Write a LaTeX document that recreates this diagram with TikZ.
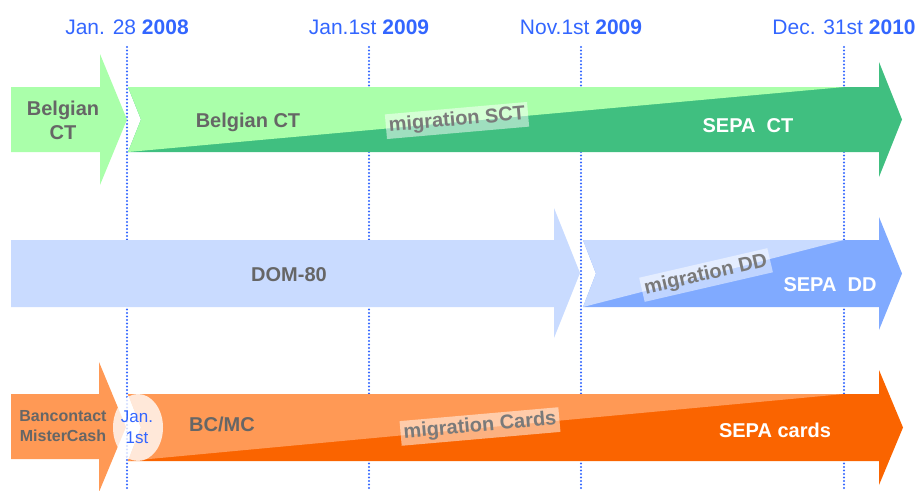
\documentclass[tikz,border=0pt]{standalone}
\usepackage{fontspec}
\setmainfont{Liberation Sans}
\definecolor{dateblue}{RGB}{51,102,255}
\definecolor{labelgray}{RGB}{102,102,102}
\definecolor{migrgray}{RGB}{122,122,122}
\definecolor{ctlight}{RGB}{170,255,170}
\definecolor{ctdark}{RGB}{64,191,128}
\definecolor{ddlight}{RGB}{201,219,255}
\definecolor{dddark}{RGB}{128,170,255}
\definecolor{cardlight}{RGB}{255,153,85}
\definecolor{carddark}{RGB}{250,100,0}

\begin{document}
\begin{tikzpicture}[x = 1pt, y = -1pt,
	datelbl/.style = {font = \fontsize{21}{24}\selectfont, text = dateblue, anchor = base, inner sep = 0pt},
	datemark/.style = {dateblue, line width = 2.3pt, line cap = round, dash pattern = on 0pt off 3.5pt},
	graylbl/.style = {font = \fontsize{20}{24}\selectfont\bfseries, text = labelgray, inner sep = 0pt},
	whitelbl/.style = {font = \fontsize{20}{24}\selectfont\bfseries, text = white, anchor = base, inner sep = 0pt},
	migrlbl/.style = {font = \fontsize{20}{24}\selectfont\bfseries, text = migrgray, fill = white, fill opacity = 0.5, text opacity = 1, inner xsep = 3pt, inner ysep = 3pt}]
	\useasboundingbox (0,0) rectangle (917,490);
	%%%	Dates
	\foreach \x/\name/\txt in {127/d2008/{Jan. 28 \textbf{2008}}, 369/d2009/{Jan.1st \textbf{2009}}, 581/dnov/{Nov.1st \textbf{2009}}, 844/d2010/{Dec. 31st \textbf{2010}}}
	{
		\node [datelbl] (\name) at (\x,34) {\txt};
		\draw [datemark] ([yshift = -13pt]\name.base) -- ++(0,443);
	}
	%%%	Credit transfers
	\fill [ctlight] (11,87) -- (100,87) -- (100,54) -- (127,119.5) -- (100,185) -- (100,152) -- (11,152) -- cycle;
	\fill [ctdark] (128,87) -- (879,87) -- (879,62) -- (902,119.5) -- (879,177) -- (879,152) -- (128,152) -- (141,119.5) -- cycle;
	\fill [ctlight] (128,87) -- (844,87) -- (128,152) -- (141,119.5) -- cycle;
	%%%	Direct debits
	\fill [ddlight] (11,240) -- (554,240) -- (554,208) -- (580,273) -- (554,338) -- (554,307) -- (11,307) -- cycle;
	\fill [dddark] (583,240) -- (879,240) -- (879,217) -- (902,273.5) -- (879,330) -- (879,307) -- (583,307) -- (596,273.5) -- cycle;
	\fill [ddlight] (583,240) -- (844,240) -- (583,307) -- (596,273.5) -- cycle;
	%%%	Cards
	\fill [cardlight] (11,394) -- (99,394) -- (99,362) -- (126,427) -- (99,492) -- (99,459) -- (11,459) -- cycle;
	\fill [carddark] (128,394) -- (879,394) -- (879,370) -- (903,427.5) -- (879,485) -- (879,461) -- (128,461) -- (141,427.5) -- cycle;
	\fill [cardlight] (128,394) -- (844,394) -- (128,461) -- (141,427.5) -- cycle;
	\fill [white, fill opacity = 0.78] (138,427.5) ellipse [x radius = 25, y radius = 33.5];
	%%%	Labels
	\node [graylbl, align = center] (oldct) at (63,120) {Belgian\\CT};
	\node [graylbl, anchor = base] (belct) at (248,127) {Belgian CT};
	\node [migrlbl, rotate = 5] (migsct) at (457,120.5) {migration SCT};
	\node [whitelbl] (sepact) at (748,132) {SEPA\ \ CT};
	\node [graylbl, anchor = base] (dom) at (289,281) {DOM-80};
	\node [migrlbl, rotate = 13] (migdd) at (706,275) {migration DD};
	\node [whitelbl] (sepadd) at (830,291) {SEPA\ \ DD};
	\node [graylbl, align = center, font = \fontsize{16}{20}\selectfont\bfseries] (bancontact) at (63,426) {Bancontact\\MisterCash};
	\node [datelbl, align = center, anchor = center, font = \fontsize{17}{21}\selectfont] (janfirst) at (137,427.5) {Jan.\\1st};
	\node [graylbl, anchor = base] (bcmc) at (222,431) {BC/MC};
	\node [migrlbl, rotate = 5] (migcards) at (480,426.5) {migration Cards};
	\node [whitelbl] (sepacards) at (775,437) {SEPA cards};
\end{tikzpicture}
\end{document}
